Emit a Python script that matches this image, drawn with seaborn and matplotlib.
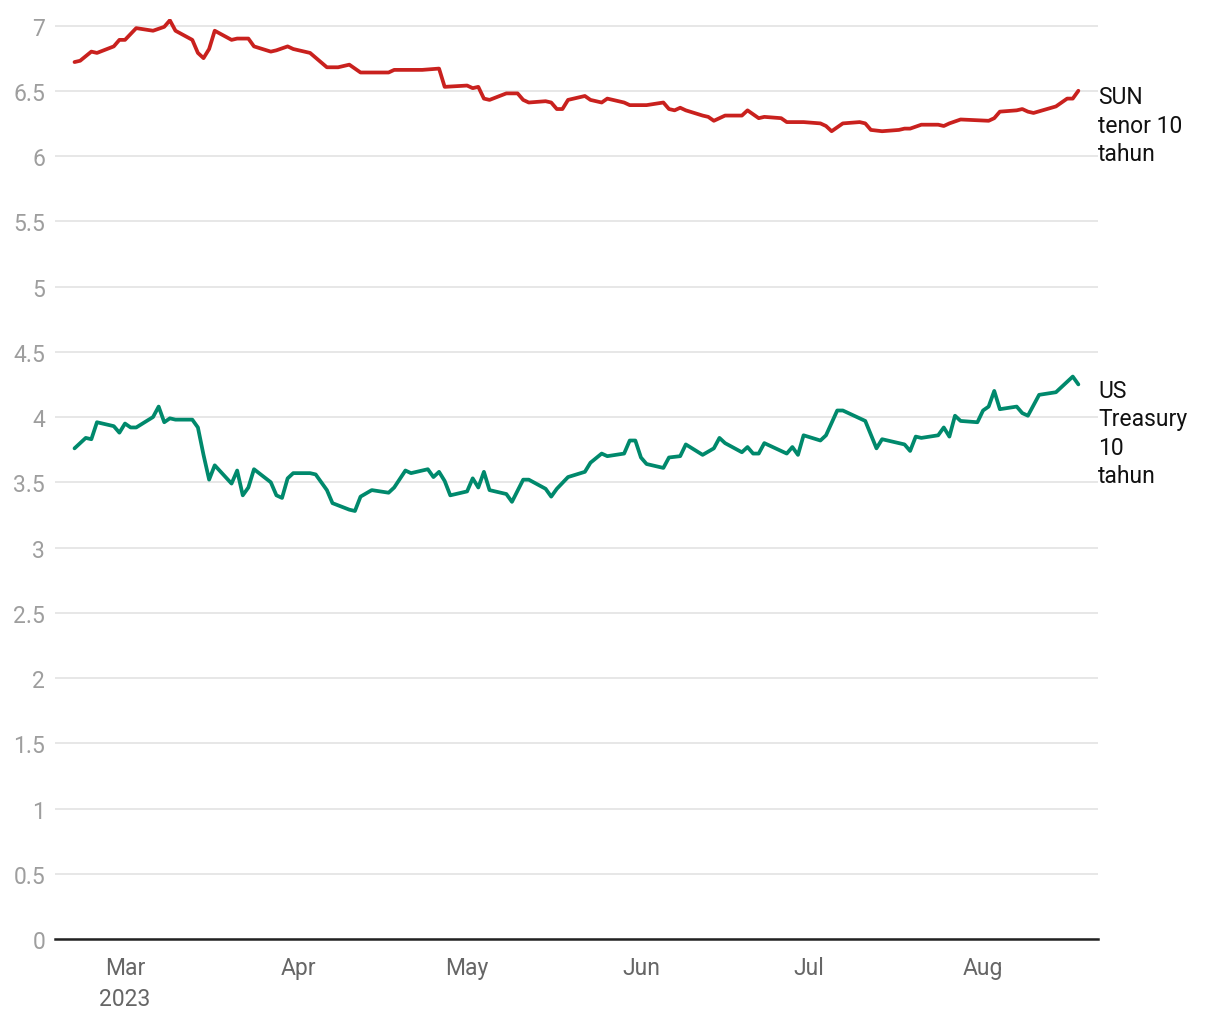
import pandas as pd
import numpy as np
import matplotlib
matplotlib.use("Agg")
import matplotlib.pyplot as plt
import seaborn as sns

# data yield SUN 10 tahun
sun_dates = ["2023-02-20", "2023-02-21", "2023-02-23", "2023-02-24", "2023-02-27", "2023-02-28",
             "2023-03-01", "2023-03-03", "2023-03-06", "2023-03-08", "2023-03-09", "2023-03-10",
             "2023-03-13", "2023-03-14", "2023-03-15", "2023-03-16", "2023-03-17", "2023-03-20",
             "2023-03-21", "2023-03-23", "2023-03-24", "2023-03-27", "2023-03-28", "2023-03-30",
             "2023-03-31", "2023-04-03", "2023-04-06", "2023-04-08", "2023-04-10", "2023-04-12",
             "2023-04-14", "2023-04-17", "2023-04-18", "2023-04-23", "2023-04-26", "2023-04-27",
             "2023-05-01", "2023-05-02", "2023-05-03", "2023-05-04", "2023-05-05", "2023-05-08",
             "2023-05-10", "2023-05-11", "2023-05-12", "2023-05-15", "2023-05-16", "2023-05-17",
             "2023-05-18", "2023-05-19", "2023-05-22", "2023-05-23", "2023-05-25", "2023-05-26",
             "2023-05-29", "2023-05-30", "2023-06-02", "2023-06-05", "2023-06-06", "2023-06-07",
             "2023-06-08", "2023-06-09", "2023-06-12", "2023-06-13", "2023-06-14", "2023-06-16",
             "2023-06-19", "2023-06-20", "2023-06-22", "2023-06-23", "2023-06-26", "2023-06-27",
             "2023-06-30", "2023-07-03", "2023-07-04", "2023-07-05", "2023-07-07", "2023-07-10",
             "2023-07-11", "2023-07-12", "2023-07-14", "2023-07-17", "2023-07-18", "2023-07-19",
             "2023-07-21", "2023-07-24", "2023-07-25", "2023-07-26", "2023-07-28", "2023-08-02",
             "2023-08-03", "2023-08-04", "2023-08-07", "2023-08-08", "2023-08-09", "2023-08-10",
             "2023-08-14", "2023-08-16", "2023-08-17", "2023-08-18"]
sun_values = [6.72, 6.73, 6.80, 6.79, 6.84, 6.89,
              6.89, 6.98, 6.96, 6.99, 7.04, 6.96,
              6.89, 6.79, 6.75, 6.82, 6.96, 6.89,
              6.90, 6.90, 6.84, 6.80, 6.81, 6.84,
              6.82, 6.79, 6.68, 6.68, 6.70, 6.64,
              6.64, 6.64, 6.66, 6.66, 6.67, 6.53,
              6.54, 6.52, 6.53, 6.44, 6.43, 6.48,
              6.48, 6.43, 6.41, 6.42, 6.41, 6.36,
              6.36, 6.43, 6.46, 6.43, 6.41, 6.44,
              6.41, 6.39, 6.39, 6.41, 6.36, 6.35,
              6.37, 6.35, 6.31, 6.30, 6.27, 6.31,
              6.31, 6.35, 6.29, 6.30, 6.29, 6.26,
              6.26, 6.25, 6.23, 6.19, 6.25, 6.26,
              6.25, 6.20, 6.19, 6.20, 6.21, 6.21,
              6.24, 6.24, 6.23, 6.25, 6.28, 6.27,
              6.29, 6.34, 6.35, 6.36, 6.34, 6.33,
              6.38, 6.44, 6.44, 6.50]

# data yield US Treasury 10 tahun
ust_dates = ["2023-02-20", "2023-02-22", "2023-02-23", "2023-02-24", "2023-02-27", "2023-02-28",
             "2023-03-01", "2023-03-02", "2023-03-03", "2023-03-06", "2023-03-07", "2023-03-08",
             "2023-03-09", "2023-03-10", "2023-03-13", "2023-03-14", "2023-03-15", "2023-03-16",
             "2023-03-17", "2023-03-20", "2023-03-21", "2023-03-22", "2023-03-23", "2023-03-24",
             "2023-03-27", "2023-03-28", "2023-03-29", "2023-03-30", "2023-03-31", "2023-04-03",
             "2023-04-04", "2023-04-06", "2023-04-07", "2023-04-10", "2023-04-11", "2023-04-12",
             "2023-04-14", "2023-04-17", "2023-04-18", "2023-04-20", "2023-04-21", "2023-04-24",
             "2023-04-25", "2023-04-26", "2023-04-27", "2023-04-28", "2023-05-01", "2023-05-02",
             "2023-05-03", "2023-05-04", "2023-05-05", "2023-05-08", "2023-05-09", "2023-05-11",
             "2023-05-12", "2023-05-15", "2023-05-16", "2023-05-17", "2023-05-19", "2023-05-22",
             "2023-05-23", "2023-05-25", "2023-05-26", "2023-05-29", "2023-05-30", "2023-05-31",
             "2023-06-01", "2023-06-02", "2023-06-05", "2023-06-06", "2023-06-08", "2023-06-09",
             "2023-06-12", "2023-06-14", "2023-06-15", "2023-06-16", "2023-06-19", "2023-06-20",
             "2023-06-21", "2023-06-22", "2023-06-23", "2023-06-27", "2023-06-28", "2023-06-29",
             "2023-06-30", "2023-07-03", "2023-07-04", "2023-07-06", "2023-07-07", "2023-07-10",
             "2023-07-11", "2023-07-13", "2023-07-14", "2023-07-18", "2023-07-19", "2023-07-20",
             "2023-07-21", "2023-07-24", "2023-07-25", "2023-07-26", "2023-07-27", "2023-07-28",
             "2023-07-31", "2023-08-01", "2023-08-02", "2023-08-03", "2023-08-04", "2023-08-07",
             "2023-08-08", "2023-08-09", "2023-08-11", "2023-08-14", "2023-08-15", "2023-08-17",
             "2023-08-18"]
ust_values = [3.76, 3.84, 3.83, 3.96, 3.93, 3.88,
              3.95, 3.92, 3.92, 4.00, 4.08, 3.96,
              3.99, 3.98, 3.98, 3.92, 3.71, 3.52,
              3.63, 3.49, 3.59, 3.40, 3.46, 3.60,
              3.50, 3.40, 3.38, 3.53, 3.57, 3.57,
              3.56, 3.44, 3.34, 3.29, 3.28, 3.39,
              3.44, 3.42, 3.46, 3.59, 3.57, 3.60,
              3.54, 3.58, 3.51, 3.40, 3.43, 3.53,
              3.46, 3.58, 3.44, 3.41, 3.35, 3.52,
              3.52, 3.45, 3.39, 3.45, 3.54, 3.58,
              3.65, 3.72, 3.70, 3.72, 3.82, 3.82,
              3.69, 3.64, 3.61, 3.69, 3.70, 3.79,
              3.71, 3.76, 3.84, 3.80, 3.73, 3.77,
              3.72, 3.72, 3.80, 3.72, 3.77, 3.71,
              3.86, 3.82, 3.86, 4.05, 4.05, 3.99,
              3.97, 3.76, 3.83, 3.79, 3.74, 3.85,
              3.84, 3.86, 3.92, 3.85, 4.01, 3.97,
              3.96, 4.05, 4.08, 4.20, 4.06, 4.08,
              4.03, 4.01, 4.17, 4.19, 4.23, 4.31,
              4.25]

series_labels = ["SUN\ntenor 10\ntahun", "US\nTreasury\n10\ntahun"]
series_colors = ["#c9211e", "#00896c"]
month_ticks = ["2023-03-01", "2023-04-01", "2023-05-01", "2023-06-01", "2023-07-01", "2023-08-01"]
month_labels = ["Mar\n2023", "Apr", "May", "Jun", "Jul", "Aug"]
y_ticks = [0, 0.5, 1, 1.5, 2, 2.5, 3, 3.5, 4, 4.5, 5, 5.5, 6, 6.5, 7]

df = pd.concat([
    pd.DataFrame({"date": pd.to_datetime(sun_dates), "yield": sun_values, "seri": series_labels[0]}),
    pd.DataFrame({"date": pd.to_datetime(ust_dates), "yield": ust_values, "seri": series_labels[1]}),
])

sns.set_style("white")
plt.rcParams["font.family"] = ["Roboto", "DejaVu Sans"]

fig = plt.figure(figsize=(12.2, 10.2), dpi=100)
ax = fig.add_axes([0.045, 0.0784, 0.855, 0.902])

sns.lineplot(data=df, x="date", y="yield", hue="seri", palette=series_colors,
             linewidth=2.7, legend=False, ax=ax)

ax.set_xlim(pd.Timestamp("2023-02-16 12:00"), pd.Timestamp("2023-08-21 12:00"))
ax.set_ylim(0, 7.05)

# grid dan sumbu
ax.set_yticks(y_ticks)
ax.set_yticklabels([f"{v:g}" for v in y_ticks])
ax.yaxis.grid(True, color="#e3e3e3", linewidth=1.2)
ax.xaxis.grid(False)
for s in ["top", "right", "left"]:
    ax.spines[s].set_visible(False)
ax.spines["bottom"].set_color("#222222")
ax.spines["bottom"].set_linewidth(1.8)
ax.tick_params(axis="y", length=0, labelsize=16.5, labelcolor="#9e9e9e", pad=7)

ax.set_xticks(pd.to_datetime(month_ticks))
ax.set_xticklabels(month_labels)
ax.tick_params(axis="x", length=0, labelsize=16.5, labelcolor="#666666", pad=12)
for t in ax.get_xticklabels():
    t.set_linespacing(1.45)
    t.set_verticalalignment("top")

ax.set_xlabel("")
ax.set_ylabel("")

# label di ujung kanan garis
for vals, lab in zip([sun_values, ust_values], series_labels):
    ax.annotate(lab, xy=(1.0, vals[-1]), xycoords=("axes fraction", "data"),
                xytext=(0, 4), textcoords="offset points", ha="left", va="top",
                fontsize=16.5, color="#111111", linespacing=1.3)

fig.savefig("out.png", dpi=100)
